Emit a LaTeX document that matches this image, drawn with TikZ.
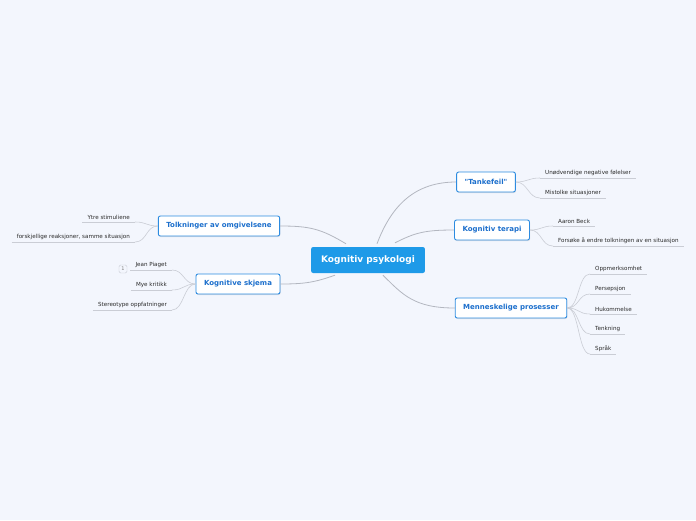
\documentclass[tikz,border=0pt]{standalone}
\usepackage{fontspec}
\setmainfont{DejaVu Sans}
\usetikzlibrary{shadows}
\definecolor{MapBg}{HTML}{F3F6FD}
\definecolor{Topic_Blue}{HTML}{1E9AE8}
\definecolor{Sub_Border}{HTML}{2C8BE0}
\definecolor{Sub_Text}{HTML}{1C6FCC}
\definecolor{Branch_Gray}{HTML}{B3B7C0}
\definecolor{Line_Gray}{HTML}{CACDD5}
\definecolor{Leaf_Text}{HTML}{2A2A2A}

\begin{document}
\begin{tikzpicture}[x=1pt, y=-1pt,
    central/.style={fill=Topic_Blue, rounded corners=2pt, text=white, font=\fontsize{9}{10}\selectfont\bfseries, minimum height=26pt, inner xsep=10pt},
    topic/.style={draw=Sub_Border, line width=0.9pt, fill=white, rounded corners=2pt, text=Sub_Text, font=\fontsize{7}{8}\selectfont\bfseries, minimum height=20pt, inner xsep=8pt, drop shadow={opacity=0.2, shadow xshift=0.6pt, shadow yshift=-1pt}},
    leaf/.style={text=Leaf_Text, font=\fontsize{5.6}{6}\selectfont, inner xsep=5pt, inner ysep=2pt},
    badge/.style={draw=Line_Gray, rounded corners=1.5pt, minimum size=8pt, inner sep=0pt, text=gray, font=\fontsize{5}{5}\selectfont},
    branch/.style={draw=Branch_Gray, line width=0.8pt},
    twig/.style={draw=Line_Gray, line width=0.6pt}]
    \useasboundingbox[fill=MapBg] (0,0) rectangle (696,520);

    % Central topic
    \node[central] (c) at (368,260) {Kognitiv psykologi};

    % Main topics
    \node[topic] (tf) at (486,182) {\textquotedbl Tankefeil\textquotedbl};
    \node[topic] (kt) at (492,230) {Kognitiv terapi};
    \node[topic] (mp) at (511,308) {Menneskelige prosesser};
    \node[topic] (to) at (219,226) {Tolkninger av omgivelsene};
    \node[topic] (ks) at (238,284) {Kognitive skjema};

    % Branches from the centre
    \draw[branch] ([xshift=9pt,yshift=3pt]c.north) .. controls +(15,-40) and +(-40,0) .. (tf.west);
    \draw[branch] ([xshift=27pt,yshift=4pt]c.north) .. controls +(20,-10) and +(-30,0) .. (kt.west);
    \draw[branch] ([xshift=15pt,yshift=-2pt]c.south) .. controls +(20,20) and +(-40,0) .. (mp.west);
    \draw[branch] ([xshift=-22pt,yshift=3pt]c.north) .. controls +(-25,-15) and +(30,0) .. (to.east);
    \draw[branch] ([xshift=-33pt,yshift=-2pt]c.south) .. controls +(-20,7) and +(25,0) .. (ks.east);

    % Subtopics, right side
    \node[leaf, anchor=south west] (tf1) at (540,178) {Unødvendige negative følelser};
    \node[leaf, anchor=south west] (tf2) at (540,198) {Mistolke situasjoner};
    \node[leaf, anchor=south west] (kt1) at (553,226) {Aaron Beck};
    \node[leaf, anchor=south west] (kt2) at (553,246) {Forsøke å endre tolkningen av en situasjon};
    \foreach \t [count=\i] in {Oppmerksomhet,Persepsjon,Hukommelse,Tenkning,Språk}
        \node[leaf, anchor=south west] (mp\i) at (590,254+20*\i) {\t};

    % Subtopics, left side
    \node[leaf, anchor=south east] (to1) at (135,222) {Ytre stimuliene};
    \node[leaf, anchor=south east] (to2) at (135,242) {forskjellige reaksjoner, samme situasjon};
    \node[leaf, anchor=south east] (ks1) at (172,270) {Jean Piaget};
    \node[leaf, anchor=south east] (ks2) at (172,290) {Mye kritikk};
    \node[leaf, anchor=south east] (ks3) at (172,310) {Stereotype oppfatninger};
    \node[badge] (ks1-count) at (123,269) {1};

    % Underlines
    \foreach \n in {tf1,tf2,kt1,kt2,mp1,mp2,mp3,mp4,mp5,to1,to2,ks1,ks2,ks3}
        \draw[twig] (\n.south west) -- (\n.south east);

    % Twigs to the subtopics
    \foreach \n in {tf1,tf2}
        \draw[twig] (tf.east) .. controls +(12,0) and +(-12,0) .. (\n.south west);
    \foreach \n in {kt1,kt2}
        \draw[twig] (kt.east) .. controls +(12,0) and +(-12,0) .. (\n.south west);
    \foreach \n in {mp1,mp2,mp3,mp4,mp5}
        \draw[twig] (mp.east) .. controls +(12,0) and +(-12,0) .. (\n.south west);
    \foreach \n in {to1,to2}
        \draw[twig] (to.west) .. controls +(-12,0) and +(12,0) .. (\n.south east);
    \foreach \n in {ks1,ks2,ks3}
        \draw[twig] (ks.west) .. controls +(-12,0) and +(12,0) .. (\n.south east);

\end{tikzpicture}
\end{document}
